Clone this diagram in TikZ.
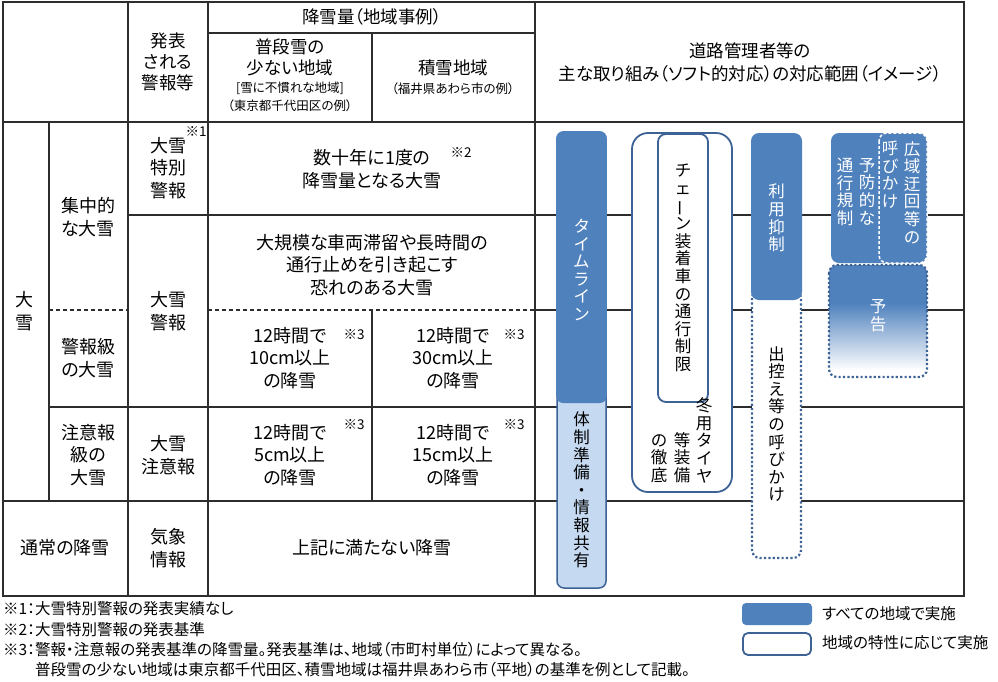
\documentclass[tikz,border=0pt]{standalone}
\usepackage{fontspec}
\setmainfont{Noto Sans CJK JP}[RawFeature=+palt]
\usepackage{graphicx}
\definecolor{barblue}{RGB}{79,129,189}
\definecolor{edgeblue}{RGB}{60,98,150}
\definecolor{paleblue}{RGB}{197,217,241}
\definecolor{linegray}{RGB}{45,45,45}
\pgfdeclareverticalshading{fadeblue}{100bp}{color(0bp)=(white); color(28bp)=(white); color(58bp)=(barblue); color(100bp)=(barblue)}

\begin{document}
\begin{tikzpicture}[x=1pt,y=-1pt,
  tabline/.style={draw=linegray,line width=1.2pt},
  txt/.style={font=\fontsize{18}{22.5}\selectfont,align=center,inner sep=0pt},
  head/.style={font=\fontsize{17.5}{21}\selectfont,align=center,inner sep=0pt},
  subnote/.style={font=\fontsize{12.5}{18}\selectfont,align=center,inner sep=0pt},
  notemark/.style={font=\fontsize{13.5}{13.5}\selectfont,inner sep=0pt},
  foot/.style={font=\fontsize{15.5}{18}\selectfont,inner sep=0pt,anchor=west},
  tate/.style={font=\fontsize{16.5}{17.6}\selectfont,inner sep=0pt},
  openbox/.style={fill=white,draw=edgeblue,line width=1.8pt,rounded corners=8pt},
  dotbox/.style={fill=white,draw=edgeblue,line width=2.2pt,dash pattern=on 2.2pt off 2.2pt,rounded corners=8pt}]
\useasboundingbox (0,0) rectangle (998,681);
\def\XA{3}\def\XB{49}\def\XC{128}\def\XD{208}\def\XE{372}\def\XF{535}\def\XG{964}
\def\YA{2}\def\YH{33}\def\YB{122}\def\YC{215}\def\YD{310}\def\YE{407}\def\YF{501}\def\YG{596}
\def\tate#1{\vbox{\tateloop#1\relax}}
\def\tateloop#1{\ifx#1\relax\else\hbox to 1em{\hss#1\hss}\expandafter\tateloop\fi}
\def\tbar{\rotatebox[origin=c]{90}{ー}}
% table rules
\draw[tabline] (\XA,\YA) rectangle (\XG,\YG);
\draw[tabline] (\XC,\YA)--(\XC,\YG) (\XD,\YA)--(\XD,\YG) (\XF,\YA)--(\XF,\YG);
\draw[tabline] (\XD,\YH)--(\XF,\YH) (\XE,\YH)--(\XE,\YB) (\XA,\YB)--(\XG,\YB);
\draw[tabline] (\XB,\YB)--(\XB,\YF) (\XC,\YC)--(\XG,\YC) (\XE,\YD)--(\XE,\YF);
\draw[tabline,dash pattern=on 4pt off 3pt] (\XB,\YD)--(\XC,\YD) (\XD,\YD)--(\XF,\YD);
\draw[tabline] (\XF,\YD)--(\XG,\YD) (\XB,\YE)--(\XG,\YE) (\XA,\YF)--(\XG,\YF);
% header
\node[head] (kind) at (168,62) {発表\\される\\警報等};
\node[head] (amount) at (372,17) {降雪量（地域事例）};
\node[head] (lowsnow) at (290,57) {普段雪の\\少ない地域};
\node[subnote] (lownote) at (290,97) {[雪に不慣れな地域]\\（東京都千代田区の例）};
\node[head] (heavysnow) at (453,68) {積雪地域};
\node[subnote] (heavynote) at (453,89) {（福井県あわら市の例）};
\node[head,font=\fontsize{17.5}{23}\selectfont] (road) at (750,62) {道路管理者等の\\主な取り組み（ソフト的対応）の対応範囲（イメージ）};
% body
\node[txt] (big) at (25,311) {大\\雪};
\node[txt] (conc) at (88,217) {集中的\\な大雪};
\node[txt] (wlevel) at (88,358) {警報級\\の大雪};
\node[txt] (alevel) at (88,455) {注意報\\級の\\大雪};
\node[txt] (normal) at (65,548) {通常の降雪};
\node[txt] (special) at (168,168) {大雪\\特別\\警報};
\node[notemark] (m1) at (196,131) {※1};
\node[txt] (warn) at (168,311) {大雪\\警報};
\node[txt] (advis) at (168,455) {大雪\\注意報};
\node[txt] (info) at (168,548) {気象\\情報};
\node[txt] (decade) at (372,169) {数十年に1度の\\降雪量となる大雪};
\node[notemark] (m2) at (461,152) {※2};
\node[txt] (stuck) at (372,265) {大規模な車両滞留や長時間の\\通行止めを引き起こす\\恐れのある大雪};
\node[txt] (wlow) at (290,358) {12時間で\\10cm以上\\の降雪};
\node[notemark] (m3a) at (354,335) {※3};
\node[txt] (whigh) at (453,358) {12時間で\\30cm以上\\の降雪};
\node[notemark] (m3b) at (514,335) {※3};
\node[txt] (alow) at (290,455) {12時間で\\5cm以上\\の降雪};
\node[notemark] (m3c) at (354,425) {※3};
\node[txt] (ahigh) at (453,455) {12時間で\\15cm以上\\の降雪};
\node[notemark] (m3d) at (514,425) {※3};
\node[txt] (below) at (372,548) {上記に満たない降雪};
% measures
\draw[fill=paleblue,draw=edgeblue,line width=1.5pt,rounded corners=7pt] (557,132) rectangle (606,588);
\fill[barblue,rounded corners=7pt] (556.2,131.2) rectangle (606.8,403);
\node[tate,text=white] (tline) at (581.5,270) {\tate{タイムライン}};
\node[tate] (prep) at (581.5,490) {\tate{体制準備・情報共有}};
\draw[openbox,rounded corners=16pt] (632,133) rectangle (732,492);
\draw[openbox] (658,134) rectangle (708,402);
\node[tate] (chain) at (683,268) {\tate{チェ\tbar ン装着車の通行制限}};
\node[tate,anchor=south] (tire1) at (704,483) {\tate{冬用タイヤ}};
\node[tate,anchor=south] (tire2) at (682,483) {\tate{等装備}};
\node[tate,anchor=south] (tire3) at (659,483) {\tate{の徹底}};
\draw[dotbox] (752,290) rectangle (801,558);
\fill[barblue,rounded corners=8pt] (751,133) rectangle (802,300);
\node[tate,text=white] (curb) at (776.5,218) {\tate{利用抑制}};
\node[tate] (stay) at (776.5,424) {\tate{出控え等の呼びかけ}};
\fill[barblue,rounded corners=8pt] (831,133) rectangle (927,263);
\draw[white,line width=1.5pt,dash pattern=on 3pt off 2pt,rounded corners=8pt] (879,133) rectangle (927,263);
\node[tate,text=white,anchor=north] (wide1) at (912,141) {\tate{広域迂回等の}};
\node[tate,text=white,anchor=north] (wide2) at (890,141) {\tate{呼びかけ}};
\node[tate,text=white,anchor=north] (prev1) at (867,158) {\tate{予防的な}};
\node[tate,text=white,anchor=north] (prev2) at (845,158) {\tate{通行規制}};
\shade[shading=fadeblue,rounded corners=8pt] (829,265) rectangle (927,377);
\draw[dotbox,fill=none] (829,265) rectangle (927,377);
\node[tate,text=white] (notice) at (878,316) {\tate{予告}};
% notes and legend
\node[foot] (f1) at (3,609) {※1：大雪特別警報の発表実績なし};
\node[foot] (f2) at (3,630) {※2：大雪特別警報の発表基準};
\node[foot] (f3) at (3,650) {※3：警報・注意報の発表基準の降雪量。発表基準は、地域（市町村単位）によって異なる。};
\node[foot] (f4) at (35,670) {普段雪の少ない地域は東京都千代田区、積雪地域は福井県あわら市（平地）の基準を例として記載。};
\fill[barblue,rounded corners=4pt] (742,603) rectangle (812,625);
\draw[openbox,rounded corners=5pt] (743,633) rectangle (811,655);
\node[foot] (allarea) at (822,614) {すべての地域で実施};
\node[foot] (somearea) at (822,643) {地域の特性に応じて実施};
\end{tikzpicture}
\end{document}
